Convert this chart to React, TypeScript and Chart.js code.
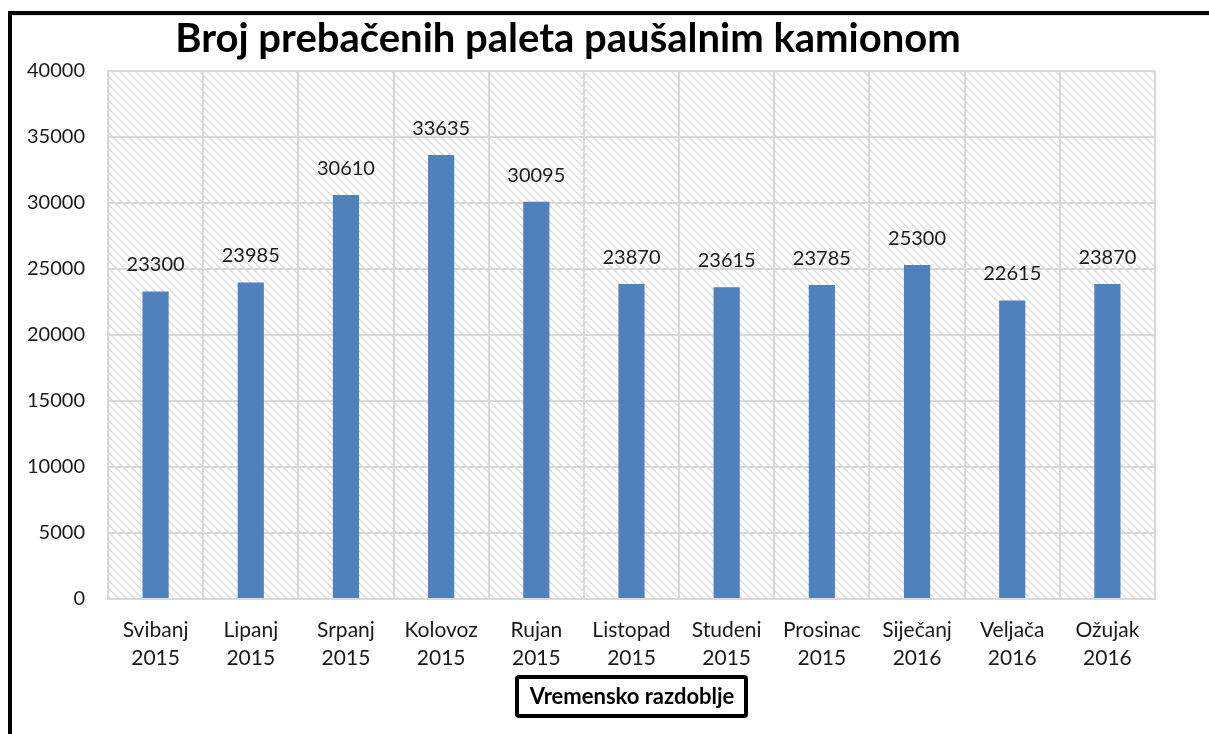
import React, { useEffect, useRef } from "react";
import { Chart, registerables } from "chart.js";

Chart.register(...registerables);

const TITLE = "Broj prebačenih paleta paušalnim kamionom";
const X_TITLE = "Vremensko razdoblje";
const MONTHS = ["Svibanj", "Lipanj", "Srpanj", "Kolovoz", "Rujan", "Listopad", "Studeni", "Prosinac", "Siječanj", "Veljača", "Ožujak"];
const YEARS = ["2015", "2015", "2015", "2015", "2015", "2015", "2015", "2015", "2016", "2016", "2016"];
const VALUES = [23300, 23985, 30610, 33635, 30095, 23870, 23615, 23785, 25300, 22615, 23870];
const Y_MIN = 0;
const Y_MAX = 40000;
const Y_STEP = 5000;

const FONT = "Lato, 'Open Sans', sans-serif";
const BAR_COLOR = "#4F81BD";
const GRID_COLOR = "#d9d9d9";

function makePattern(): CanvasPattern | string {
  const c = document.createElement("canvas");
  c.width = 8;
  c.height = 8;
  const g = c.getContext("2d");
  if (!g) return "#fff";
  g.fillStyle = "#fff";
  g.fillRect(0, 0, 8, 8);
  g.strokeStyle = "#d6d6d6";
  g.lineWidth = 1.2;
  g.beginPath();
  g.moveTo(-2, -2);
  g.lineTo(10, 10);
  g.moveTo(-2, 6);
  g.lineTo(2, 10);
  g.moveTo(6, -2);
  g.lineTo(10, 2);
  g.stroke();
  const p = g.createPattern(c, "repeat");
  return p || "#fff";
}

const decor = {
  id: "decor",
  beforeDraw(chart: any) {
    const { ctx, chartArea: a } = chart;
    ctx.save();
    ctx.fillStyle = "#fff";
    ctx.fillRect(0, 0, chart.width, chart.height);
    ctx.fillStyle = "#000";
    ctx.fillRect(8, 11, chart.width, 4);
    ctx.fillRect(8, 11, 4, chart.height);
    ctx.fillStyle = "#e6e6e6";
    ctx.fillRect(12, 15, chart.width, 1);
    ctx.fillStyle = makePattern();
    ctx.fillRect(a.left, a.top, a.right - a.left, a.bottom - a.top);
    ctx.restore();
  },
  afterDatasetsDraw(chart: any) {
    const { ctx } = chart;
    const meta = chart.getDatasetMeta(0);
    ctx.save();
    ctx.fillStyle = "#1a1a1a";
    ctx.font = `20px ${FONT}`;
    ctx.textAlign = "center";
    ctx.textBaseline = "alphabetic";
    meta.data.forEach((bar: any, i: number) => {
      ctx.fillText(String(VALUES[i]), bar.x, bar.y - 20);
    });
    ctx.restore();
  },
  afterDraw(chart: any) {
    const { ctx } = chart;
    ctx.save();
    ctx.fillStyle = "#000";
    ctx.font = `bold 40px ${FONT}`;
    ctx.textAlign = "center";
    ctx.textBaseline = "alphabetic";
    ctx.fillText(TITLE, 568, 52);

    ctx.strokeStyle = "#000";
    ctx.lineWidth = 4;
    ctx.beginPath();
    (ctx as any).roundRect(517, 677, 229, 39, 2);
    ctx.stroke();
    ctx.font = `bold 22px ${FONT}`;
    ctx.textBaseline = "middle";
    ctx.fillText(X_TITLE, 632, 697);
    ctx.restore();
  },
};

export default function App() {
  const ref = useRef<HTMLCanvasElement>(null);
  useEffect(() => {
    if (!ref.current) return;
    const chart = new Chart(ref.current, {
      type: "bar",
      data: {
        labels: MONTHS.map((m, i) => [m, YEARS[i]]),
        datasets: [
          {
            data: VALUES,
            backgroundColor: BAR_COLOR,
            borderWidth: 0,
            categoryPercentage: 1,
            barPercentage: 0.275,
          },
        ],
      },
      options: {
        responsive: false,
        animation: false,
        devicePixelRatio: 1,
        layout: { padding: { top: 71, left: 0, right: 54, bottom: 45 } },
        plugins: {
          legend: { display: false },
          title: { display: false },
          tooltip: { enabled: false },
        },
        scales: {
          x: {
            grid: { color: GRID_COLOR, lineWidth: 2, drawTicks: false, offset: true },
            border: { display: true, color: GRID_COLOR, width: 2 },
            ticks: {
              color: "#1a1a1a",
              font: { family: FONT, size: 21, lineHeight: 1.35 },
              padding: 17,
              maxRotation: 0,
              autoSkip: false,
            },
            afterFit(scale: any) {
              scale.height = 90;
            },
          },
          y: {
            min: Y_MIN,
            max: Y_MAX,
            grid: { color: GRID_COLOR, lineWidth: 2, drawTicks: false },
            border: { display: true, color: GRID_COLOR, width: 2 },
            ticks: {
              stepSize: Y_STEP,
              color: "#1a1a1a",
              font: { family: FONT, size: 20 },
              padding: 23,
              callback: (v: any) => String(v),
            },
            afterFit(scale: any) {
              scale.width = 108;
            },
          },
        },
      },
      plugins: [decor],
    });
    return () => chart.destroy();
  }, []);

  return (
    <div style={{ position: "absolute", left: 0, top: 0, width: 1209, height: 734, background: "#fff" }}>
      <canvas ref={ref} width={1209} height={734} style={{ display: "block" }} />
    </div>
  );
}
